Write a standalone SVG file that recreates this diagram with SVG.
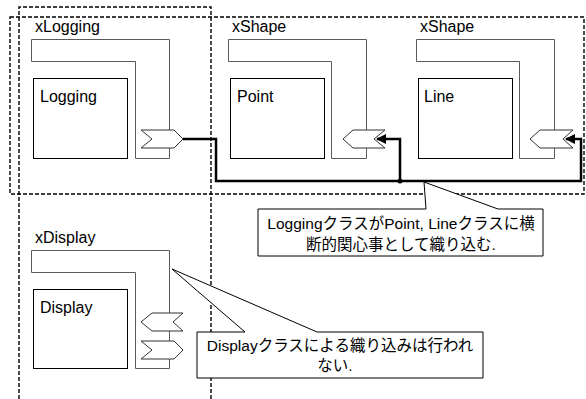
<svg xmlns="http://www.w3.org/2000/svg" width="586" height="399" viewBox="0 0 586 399">
<style>
.dash{fill:none;stroke:#000;stroke-width:1.4;stroke-dasharray:4 2}
.lshape{fill:#fff;stroke:#5a5a5a;stroke-width:1}
.box{fill:#fff;stroke:#000;stroke-width:1}
.port{fill:#fff;stroke:#333;stroke-width:1}
.lbl{font-family:"Liberation Sans",Arial,sans-serif;font-size:16px;fill:#000}
.conn{fill:none;stroke:#000;stroke-width:2.5}
.callout{fill:#fff;stroke:#000;stroke-width:1}
.ctext{font-family:"Liberation Sans","Noto Sans CJK JP",sans-serif;font-size:15.5px;fill:#000;text-anchor:middle}
</style>
<defs>
<marker id="arr" viewBox="0 0 10 10" refX="9" refY="5" markerWidth="4" markerHeight="4" orient="auto" markerUnits="strokeWidth">
<path d="M0,0 L10,5 L0,10 Z" fill="#000"/>
</marker>
</defs>
<g id="boundaries">
<rect class="dash" x="10" y="17" width="574" height="177"/>
<path class="dash" d="M19,399 V7 H211 V399"/>
</g>
<g id="xLogging">
<text class="lbl" x="35" y="32">xLogging</text>
<path class="lshape" d="M31.5,39.5 H169.5 V158.5 H135.5 V61.5 H31.5 Z"/>
<rect class="box" x="33.5" y="78.5" width="94" height="80"/>
<text class="lbl" x="40" y="102">Logging</text>
<polygon class="port" points="141,130 174,130 183,139 174,148 141,148 152,139"/>
</g>
<g id="xShapePoint">
<text class="lbl" x="232" y="32">xShape</text>
<path class="lshape" d="M228.5,39.5 H366.5 V158.5 H331.5 V61.5 H228.5 Z"/>
<rect class="box" x="230.5" y="78.5" width="94" height="80"/>
<text class="lbl" x="237" y="102">Point</text>
<polygon class="port" points="343,139 353,130 385,130 374,139 385,148 353,148"/>
</g>
<g id="xShapeLine">
<text class="lbl" x="420" y="32">xShape</text>
<path class="lshape" d="M416.5,39.5 H554.5 V158.5 H519.5 V61.5 H416.5 Z"/>
<rect class="box" x="418.5" y="78.5" width="94" height="80"/>
<text class="lbl" x="424" y="102">Line</text>
<polygon class="port" points="530,139 540,130 573,130 563,139 573,148 540,148"/>
</g>
<g id="xDisplay">
<text class="lbl" x="35" y="243">xDisplay</text>
<path class="lshape" d="M31.5,250.5 H169.5 V368.5 H135.5 V272.5 H31.5 Z"/>
<rect class="box" x="33.5" y="289.5" width="94" height="79"/>
<text class="lbl" x="40" y="313">Display</text>
<polygon class="port" points="141,322 152,313 183,313 173,322 183,331 152,331"/>
<polygon class="port" points="141,341 174,341 183,350 174,359 141,359 152,350"/>
</g>
<g id="connectors">
<path class="conn" d="M183,139 H216 V181 H581 V139 H566" marker-end="url(#arr)"/>
<path class="conn" d="M400,181 V139 H377" marker-end="url(#arr)"/>
<circle cx="400" cy="181" r="2.5" fill="#000"/>
</g>
<g id="callout1">
<polygon class="callout" points="258,209 426,209 424,182 498,209 543,209 543,256 258,256"/>
<text class="ctext" x="401" y="229">LoggingクラスがPoint, Lineクラスに横</text>
<text class="ctext" x="401" y="250">断的関心事として織り込む.</text>
</g>
<g id="callout2">
<polygon class="callout" points="197,332 245,332 172,269 317,332 483,332 483,378 197,378"/>
<text class="ctext" x="340" y="351">Displayクラスによる織り込みは行われ</text>
<text class="ctext" x="335" y="371">ない.</text>
</g>
</svg>
